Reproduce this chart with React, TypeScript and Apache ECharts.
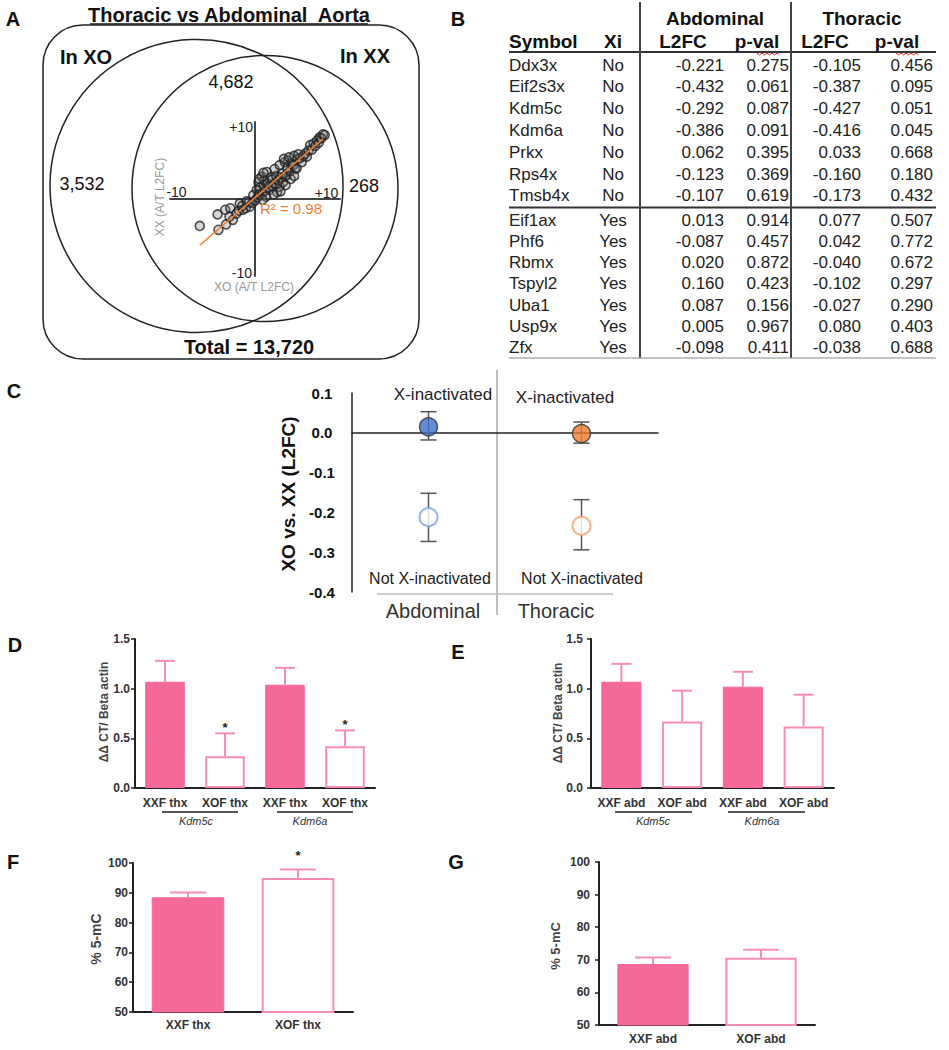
import { useEffect, useRef } from 'react';
import * as echarts from 'echarts';

const FONT = '"Liberation Sans", Arial, Helvetica, sans-serif';
const PINK = '#f5689a';
const PINK_LINE = '#f78db1';
const ORANGE_FIT = '#f07f2e';

// ---------------- Panel A : Venn + scatter ----------------
const vennSetLabels = ['In XO', 'In XX'];
const vennCounts = ['3,532', '4,682', '268']; // XO only, both, XX only
const vennTotal = 13720;
const scatterTickLabels = ['-10', '+10'];
const scatterAxisTitles = ['XO (A/T L2FC)', 'XX (A/T L2FC)'];
const l2fcPoints: [number, number][] = [
  [-6.5, -3.5], [-4.3, -4.0], [-4.4, -2.0], [-3.5, -1.4], [-2.9, -1.2], [-3.4, -3.3],
  [-2.6, -2.7], [-3.0, -2.3], [-2.2, -1.9], [-1.8, -0.6], [-1.9, -1.5], [-1.4, -1.4],
  [-1.5, -0.9], [-1.0, -0.3], [-1.1, -1.2], [-0.6, -1.0], [-0.7, -0.4], [-0.3, -0.5],
  [-0.2, 0.5], [0.0, -0.2], [0.2, 1.2], [0.3, 0.2], [0.4, 2.2], [0.5, 0.6],
  [0.6, 1.5], [0.8, 2.9], [0.9, 0.8], [1.0, 1.8], [1.1, 2.4], [1.2, 1.1],
  [1.4, 3.5], [1.5, 2.0], [1.6, 1.6], [1.7, 1.2], [1.9, 2.8], [2.0, 2.5],
  [2.1, 1.6], [2.3, 2.0], [2.5, 3.0], [2.6, 0.9], [2.7, 2.4], [2.9, 1.6],
  [3.0, 2.8], [3.2, 3.3], [3.3, 2.2], [3.5, 2.9], [3.7, 3.1], [3.8, 4.0],
  [3.9, 5.0], [4.1, 3.6], [4.3, 4.6], [4.5, 4.4], [4.7, 3.9], [4.9, 4.0],
  [5.0, 5.2], [5.3, 5.3], [5.5, 4.8], [5.7, 5.6], [5.9, 5.9], [6.1, 5.5],
  [6.3, 6.3], [6.5, 7.0], [6.7, 6.4], [6.9, 7.2], [7.1, 6.9], [7.3, 7.6],
  [7.5, 7.3], [7.6, 8.0], [7.8, 7.9], [8.0, 8.4], [8.2, 8.3],
  [2.2, 0.6], [3.0, 1.0], [3.6, 1.8], [4.2, 2.6], [4.6, 3.0], [1.3, 0.3],
  [0.9, -0.1], [0.5, 2.6], [1.0, 3.4], [2.3, 3.9], [3.5, 4.8], [4.6, 5.6],
  [2.9, 4.4], [3.4, 5.2], [4.0, 5.4], [5.1, 5.8],
];
const fitLineXO = [-6.5, 8.0];
const fitLineXX = [-6.0, 7.8];
const fitR2 = 0.98;

// ---------------- Panel B : table ----------------
const tableGroups = ['Abdominal', 'Thoracic'];
const tableHeaders = ['Symbol', 'Xi', 'L2FC', 'p-val', 'L2FC', 'p-val'];
const geneSymbols = ['Ddx3x', 'Eif2s3x', 'Kdm5c', 'Kdm6a', 'Prkx', 'Rps4x', 'Tmsb4x',
  'Eif1ax', 'Phf6', 'Rbmx', 'Tspyl2', 'Uba1', 'Usp9x', 'Zfx'];
const geneXi = ['No', 'No', 'No', 'No', 'No', 'No', 'No', 'Yes', 'Yes', 'Yes', 'Yes', 'Yes', 'Yes', 'Yes'];
const abdL2FC = [-0.221, -0.432, -0.292, -0.386, 0.062, -0.123, -0.107, 0.013, -0.087, 0.020, 0.160, 0.087, 0.005, -0.098];
const abdPval = [0.275, 0.061, 0.087, 0.091, 0.395, 0.369, 0.619, 0.914, 0.457, 0.872, 0.423, 0.156, 0.967, 0.411];
const thxL2FC = [-0.105, -0.387, -0.427, -0.416, 0.033, -0.160, -0.173, 0.077, 0.042, -0.040, -0.102, -0.027, 0.080, -0.038];
const thxPval = [0.456, 0.095, 0.051, 0.045, 0.668, 0.180, 0.432, 0.507, 0.772, 0.672, 0.297, 0.290, 0.403, 0.688];

// ---------------- Panel C ----------------
const cTissues = ['Abdominal', 'Thoracic'];
const cGroupLabels = ['X-inactivated', 'Not X-inactivated'];
const xiMean = [0.015, -0.002];
const xiLow = [-0.018, -0.026];
const xiHigh = [0.053, 0.027];
const notXiMean = [-0.212, -0.234];
const notXiLow = [-0.273, -0.294];
const notXiHigh = [-0.152, -0.168];
const tissueFill = ['#3c6fc9', '#ef7b2e'];
const tissueOpen = ['#7ea3e3', '#f2a06c'];

// ---------------- Panels D-G ----------------
const dCats = ['XXF thx', 'XOF thx', 'XXF thx', 'XOF thx'];
const dMeans = [1.07, 0.32, 1.04, 0.42];
const dErr = [0.21, 0.23, 0.17, 0.16];
const dSig = ['', '*', '', '*'];
const eCats = ['XXF abd', 'XOF abd', 'XXF abd', 'XOF abd'];
const eMeans = [1.07, 0.67, 1.02, 0.62];
const eErr = [0.18, 0.31, 0.15, 0.32];
const eSig = ['', '', '', ''];
const qpcrGenes = ['Kdm5c', 'Kdm6a'];
const fCats = ['XXF thx', 'XOF thx'];
const fMeans = [88.5, 95.0];
const fErr = [1.6, 2.8];
const fSig = ['', '*'];
const gCats = ['XXF abd', 'XOF abd'];
const gMeans = [68.7, 70.6];
const gErr = [2.0, 2.5];
const gSig = ['', ''];

// ---------------- helpers ----------------
const T = (x: number, y: number, text: string, size: number, o: any = {}) => ({
  type: 'text',
  x,
  y,
  rotation: o.rotation || 0,
  silent: true,
  z: 10,
  style: {
    text,
    fill: o.color || '#111',
    font: `${o.italic ? 'italic ' : ''}${o.bold ? 'bold ' : ''}${size}px ${FONT}`,
    align: o.align || 'center',
    verticalAlign: o.vAlign || 'middle',
    textAlign: o.align || 'center',
    textVerticalAlign: o.vAlign || 'middle',
  },
});
const L = (x1: number, y1: number, x2: number, y2: number, color: string, width: number) => ({
  type: 'line',
  silent: true,
  shape: { x1, y1, x2, y2 },
  style: { stroke: color, lineWidth: width },
});
const squiggle = (x0: number, x1: number, y: number) => {
  const pts: number[][] = [];
  let k = 0;
  for (let x = x0; x <= x1; x += 2.5) {
    pts.push([x, y + (k % 2 === 0 ? 0 : 2)]);
    k++;
  }
  return { type: 'polyline', silent: true, shape: { points: pts }, style: { stroke: '#e02020', lineWidth: 1, fill: 'none' } };
};

const barAxes = (idx: number, cats: string[], min: number, max: number, interval: number, dec: number,
  yMargin: number, xMargin: number) => ({
  x: {
    type: 'category',
    gridIndex: idx,
    data: cats,
    axisLine: { lineStyle: { color: '#222', width: 2 } },
    axisTick: { alignWithLabel: true, length: 5, lineStyle: { color: '#222', width: 1.5 } },
    axisLabel: { interval: 0, color: '#333', fontWeight: 'bold', fontSize: 12, fontFamily: FONT, margin: xMargin },
    splitLine: { show: false },
  },
  y: {
    type: 'value',
    gridIndex: idx,
    min,
    max,
    interval,
    axisLine: { show: true, lineStyle: { color: '#222', width: 2 } },
    axisTick: { show: true, length: 4, lineStyle: { color: '#222', width: 1.5 } },
    axisLabel: {
      color: '#333', fontWeight: 'bold', fontSize: 12, fontFamily: FONT, margin: yMargin,
      formatter: (v: number) => v.toFixed(dec),
    },
    splitLine: { show: false },
  },
});

const barSeries = (idx: number, cats: string[], means: number[], errs: number[], sig: string[], starGap: number) => [
  {
    type: 'bar',
    xAxisIndex: idx,
    yAxisIndex: idx,
    barWidth: '66%',
    z: 2,
    data: means.map((m, i) => ({
      value: m,
      itemStyle: cats[i].startsWith('XXF')
        ? { color: PINK, borderColor: PINK, borderWidth: 1 }
        : { color: '#ffffff', borderColor: PINK_LINE, borderWidth: 2 },
    })),
  },
  {
    type: 'custom',
    xAxisIndex: idx,
    yAxisIndex: idx,
    z: 3,
    data: means.map((m, i) => [i, m, m + errs[i]]),
    encode: { x: 0, y: [1, 2] },
    renderItem: (params: any, api: any) => {
      const i = api.value(0);
      const base = api.coord([i, api.value(1)]);
      const top = api.coord([i, api.value(2)]);
      const half = (api.size([1, 0])[0] * 0.66) / 4;
      const ch: any[] = [
        { type: 'line', shape: { x1: base[0], y1: base[1], x2: top[0], y2: top[1] }, style: { stroke: PINK_LINE, lineWidth: 2 } },
        { type: 'line', shape: { x1: top[0] - half, y1: top[1], x2: top[0] + half, y2: top[1] }, style: { stroke: PINK_LINE, lineWidth: 2 } },
      ];
      const s = sig[params.dataIndex];
      if (s) {
        ch.push({
          type: 'text', x: top[0], y: top[1] - starGap,
          style: { text: s, fill: '#222', font: `bold 13px ${FONT}`, align: 'center', verticalAlign: 'middle', textAlign: 'center', textVerticalAlign: 'middle' },
        });
      }
      return { type: 'group', children: ch };
    },
  },
];

function buildOption() {
  const graphic: any[] = [];

  // panel letters
  [['A', 13, 19], ['B', 458, 19], ['C', 14, 391], ['D', 15, 645], ['E', 458, 652], ['F', 13, 862], ['G', 456, 862]]
    .forEach(([s, x, y]) => graphic.push(T(x as number, y as number, s as string, 20, { bold: true })));

  // ---- Panel A decorations ----
  graphic.push(T(229, 15, 'Thoracic vs Abdominal  Aorta', 20, { bold: true }));
  graphic.push(L(90, 24, 368, 24, '#111', 1.5));
  graphic.push({ type: 'rect', silent: true, shape: { x: 43, y: 25, width: 376, height: 334, r: 40 }, style: { fill: 'none', stroke: '#222', lineWidth: 1.5 } });
  graphic.push({ type: 'circle', silent: true, shape: { cx: 196.5, cy: 186, r: 146.5 }, style: { fill: 'none', stroke: '#222', lineWidth: 1.5 } });
  graphic.push({ type: 'circle', silent: true, shape: { cx: 265, cy: 188.5, r: 133 }, style: { fill: 'none', stroke: '#222', lineWidth: 1.5 } });
  graphic.push(T(86, 57, vennSetLabels[0], 20, { bold: true }));
  graphic.push(T(365, 56, vennSetLabels[1], 20, { bold: true }));
  graphic.push(T(82, 184, vennCounts[0], 18));
  graphic.push(T(231, 82, vennCounts[1], 18));
  graphic.push(T(364, 186, vennCounts[2], 18));
  graphic.push(T(249, 347, 'Total = ' + vennTotal.toLocaleString('en-US'), 20, { bold: true }));
  graphic.push(T(253, 127, scatterTickLabels[1], 14, { align: 'right', color: '#222' }));
  graphic.push(T(176.5, 192, scatterTickLabels[0], 14, { color: '#222' }));
  graphic.push(T(326.5, 193, scatterTickLabels[1], 14, { color: '#222' }));
  graphic.push(T(252, 273, scatterTickLabels[0], 14, { align: 'right', color: '#222' }));
  graphic.push(T(254, 287, scatterAxisTitles[0], 12, { color: '#999' }));
  graphic.push(T(160, 197, scatterAxisTitles[1], 12, { color: '#999', rotation: Math.PI / 2 }));
  graphic.push(T(291, 208, 'R\u00B2 = ' + fitR2.toFixed(2), 15, { color: ORANGE_FIT }));

  // ---- Panel B table ----
  graphic.push(T(715, 18, tableGroups[0], 19, { bold: true }));
  graphic.push(T(862, 18, tableGroups[1], 19, { bold: true }));
  const headX = [509, 613, 683, 757, 825, 897];
  tableHeaders.forEach((h, i) => graphic.push(T(headX[i], 41, h, 19, { bold: true, align: i === 0 ? 'left' : 'center' })));
  graphic.push(squiggle(757, 780, 53));
  graphic.push(squiggle(896, 919, 53));
  graphic.push(L(509, 52, 936, 52, '#333', 2));
  graphic.push(L(509, 207.5, 936, 207.5, '#333', 2));
  graphic.push(L(640, 2, 640, 358, '#444', 2));
  graphic.push(L(791, 2, 791, 358, '#444', 2));
  graphic.push(L(509, 358, 936, 358, '#888', 1));
  const rowY = (i: number) => (i < 7 ? 65 + i * 21.8 : 220 + (i - 7) * 21.3);
  geneSymbols.forEach((g, i) => {
    const y = rowY(i);
    const c = '#222';
    graphic.push(T(509, y, g, 17, { align: 'left', color: c }));
    graphic.push(T(613, y, geneXi[i], 17, { color: c }));
    graphic.push(T(724, y, abdL2FC[i].toFixed(3), 17, { align: 'right', color: c }));
    graphic.push(T(789, y, abdPval[i].toFixed(3), 17, { align: 'right', color: c }));
    graphic.push(T(861, y, thxL2FC[i].toFixed(3), 17, { align: 'right', color: c }));
    graphic.push(T(933, y, thxPval[i].toFixed(3), 17, { align: 'right', color: c }));
  });

  // ---- Panel C decorations ----
  graphic.push(L(497, 370, 497, 615, '#aaa', 1.5));
  graphic.push(L(377, 594, 613, 594, '#bbb', 1.5));
  graphic.push(T(288, 494, 'XO vs. XX (L2FC)', 19, { bold: true, rotation: Math.PI / 2 }));
  graphic.push(T(443, 394, cGroupLabels[0], 17, { color: '#222' }));
  graphic.push(T(565, 397, cGroupLabels[0], 17, { color: '#222' }));
  graphic.push(T(430, 578, cGroupLabels[1], 16, { color: '#222' }));
  graphic.push(T(582, 578, cGroupLabels[1], 16, { color: '#222' }));
  graphic.push(T(433, 611, cTissues[0], 20, { color: '#333' }));
  graphic.push(T(556, 611, cTissues[1], 20, { color: '#333' }));

  // ---- Panels D-G decorations ----
  graphic.push(T(104, 712, '\u0394\u0394 CT/ Beta actin', 12, { bold: true, color: '#444', rotation: Math.PI / 2 }));
  graphic.push(T(558, 713, '\u0394\u0394 CT/ Beta actin', 12, { bold: true, color: '#444', rotation: Math.PI / 2 }));
  graphic.push(L(162, 812, 238, 812, '#222', 1.5));
  graphic.push(L(277, 812, 353, 812, '#222', 1.5));
  graphic.push(L(615, 812, 692, 812, '#222', 1.5));
  graphic.push(L(728, 812, 805, 812, '#222', 1.5));
  graphic.push(T(196, 821, qpcrGenes[0], 11, { italic: true, color: '#333' }));
  graphic.push(T(310, 821, qpcrGenes[1], 11, { italic: true, color: '#333' }));
  graphic.push(T(653, 821, qpcrGenes[0], 11, { italic: true, color: '#333' }));
  graphic.push(T(762, 821, qpcrGenes[1], 11, { italic: true, color: '#333' }));
  graphic.push(T(96, 939, '% 5-mC', 14, { bold: true, color: '#444', rotation: Math.PI / 2 }));
  graphic.push(T(555, 946, '% 5-mC', 13, { bold: true, color: '#444', rotation: Math.PI / 2 }));

  const D = barAxes(2, dCats, 0, 1.5, 0.5, 1, 5, 9);
  const E = barAxes(3, eCats, 0, 1.5, 0.5, 1, 8, 9);
  const F = barAxes(4, fCats, 50, 100, 10, 0, 5, 7);
  const G = barAxes(5, gCats, 50, 100, 10, 0, 9, 8);

  const scatterAxis = (idx: number) => ({
    type: 'value',
    gridIndex: idx,
    min: -10,
    max: 10,
    axisLine: { onZero: true, lineStyle: { color: '#444', width: 2 } },
    axisTick: { show: false },
    axisLabel: { show: false },
    splitLine: { show: false },
  });

  return {
    animation: false,
    backgroundColor: '#ffffff',
    textStyle: { fontFamily: FONT },
    grid: [
      { left: 170, top: 122, width: 170, height: 154 },
      { left: 352, top: 393, width: 306, height: 199 },
      { left: 135, top: 639, width: 240, height: 149 },
      { left: 591, top: 639, width: 243, height: 149 },
      { left: 133, top: 863, width: 220, height: 149 },
      { left: 599, top: 862, width: 216, height: 163 },
    ],
    xAxis: [
      scatterAxis(0),
      {
        type: 'category',
        gridIndex: 1,
        data: cTissues,
        axisLine: { onZero: true, lineStyle: { color: '#222', width: 1.5 } },
        axisTick: { show: false },
        axisLabel: { show: false },
      },
      D.x, E.x, F.x, G.x,
    ],
    yAxis: [
      scatterAxis(0),
      {
        type: 'value',
        gridIndex: 1,
        min: -0.4,
        max: 0.1,
        interval: 0.1,
        axisLine: { show: true, lineStyle: { color: '#222', width: 1.5 } },
        axisTick: { show: false },
        splitLine: { show: false },
        axisLabel: {
          color: '#111', fontWeight: 'bold', fontSize: 15, fontFamily: FONT, margin: 30, align: 'center',
          formatter: (v: number) => v.toFixed(1),
        },
      },
      D.y, E.y, F.y, G.y,
    ],
    graphic: { elements: graphic },
    series: [
      {
        type: 'scatter',
        xAxisIndex: 0,
        yAxisIndex: 0,
        z: 3,
        symbolSize: 9,
        data: l2fcPoints,
        itemStyle: { color: 'rgba(110,110,110,0.35)', borderColor: '#222', borderWidth: 1.6 },
      },
      {
        type: 'line',
        xAxisIndex: 0,
        yAxisIndex: 0,
        z: 4,
        symbol: 'none',
        data: fitLineXO.map((x, i) => [x, fitLineXX[i]]),
        lineStyle: { color: ORANGE_FIT, width: 1.5 },
      },
      {
        type: 'custom',
        xAxisIndex: 1,
        yAxisIndex: 1,
        z: 2,
        data: [
          ...cTissues.map((_, i) => [i, xiLow[i], xiHigh[i]]),
          ...cTissues.map((_, i) => [i, notXiLow[i], notXiHigh[i]]),
        ],
        encode: { x: 0, y: [1, 2] },
        renderItem: (_p: any, api: any) => {
          const lo = api.coord([api.value(0), api.value(1)]);
          const hi = api.coord([api.value(0), api.value(2)]);
          const h = 8;
          const st = { stroke: '#555', lineWidth: 1.5 };
          return {
            type: 'group',
            children: [
              { type: 'line', shape: { x1: lo[0], y1: lo[1], x2: hi[0], y2: hi[1] }, style: st },
              { type: 'line', shape: { x1: lo[0] - h, y1: lo[1], x2: lo[0] + h, y2: lo[1] }, style: st },
              { type: 'line', shape: { x1: hi[0] - h, y1: hi[1], x2: hi[0] + h, y2: hi[1] }, style: st },
            ],
          };
        },
      },
      {
        type: 'scatter',
        name: cGroupLabels[0],
        xAxisIndex: 1,
        yAxisIndex: 1,
        z: 4,
        symbolSize: 18,
        data: cTissues.map((_, i) => ({
          value: [i, xiMean[i]],
          itemStyle: { color: tissueFill[i], borderColor: '#333', borderWidth: 1.5 },
        })),
      },
      {
        type: 'scatter',
        name: cGroupLabels[1],
        xAxisIndex: 1,
        yAxisIndex: 1,
        z: 4,
        symbolSize: 18,
        data: cTissues.map((_, i) => ({
          value: [i, notXiMean[i]],
          itemStyle: { color: '#ffffff', borderColor: tissueOpen[i], borderWidth: 2 },
        })),
      },
      ...barSeries(2, dCats, dMeans, dErr, dSig, 6),
      ...barSeries(3, eCats, eMeans, eErr, eSig, 6),
      ...barSeries(4, fCats, fMeans, fErr, fSig, 14),
      ...barSeries(5, gCats, gMeans, gErr, gSig, 6),
    ],
  };
}

export default function App() {
  const ref = useRef<HTMLDivElement>(null);
  useEffect(() => {
    if (!ref.current) return;
    const chart = echarts.init(ref.current, undefined, { renderer: 'svg' });
    chart.setOption(buildOption() as any);
    return () => chart.dispose();
  }, []);
  return (
    <div
      ref={ref}
      style={{ position: 'absolute', left: 0, top: 0, width: 949, height: 1050, background: '#fff' }}
    />
  );
}
